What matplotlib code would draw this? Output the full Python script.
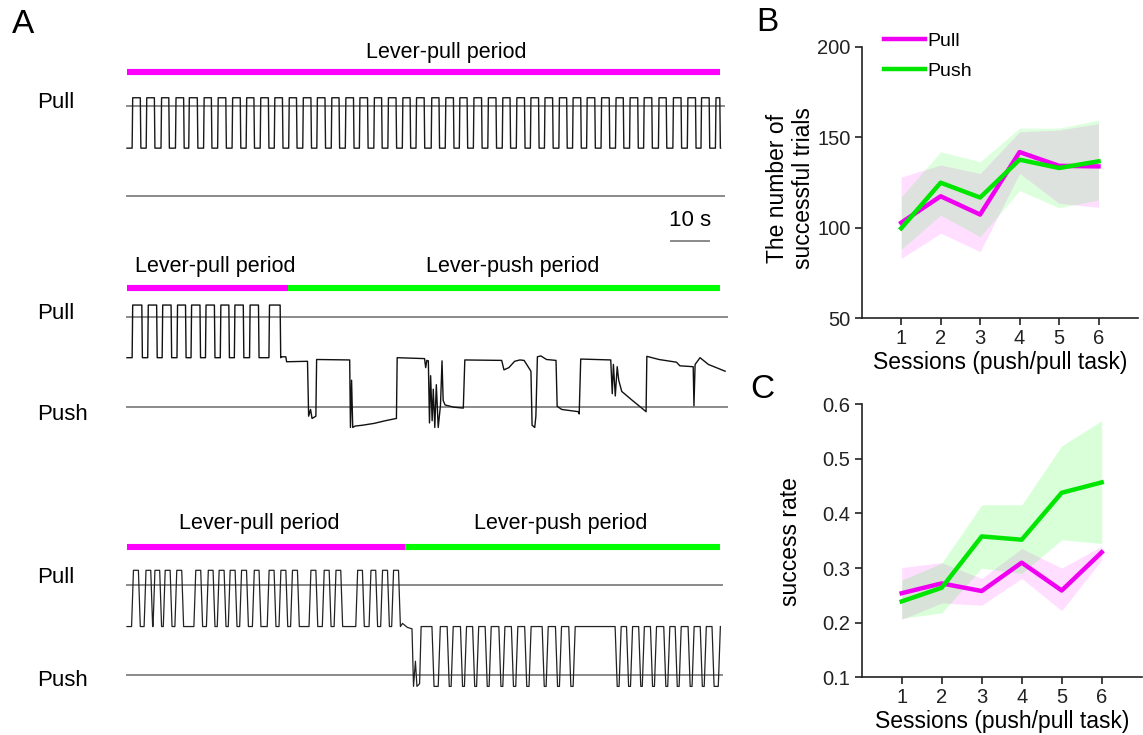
import numpy as np
import matplotlib
matplotlib.use('Agg')
import matplotlib.pyplot as plt

plt.rcParams['font.family'] = ['Liberation Sans', 'DejaVu Sans']

PULL_C = '#ff00ff'
PUSH_C = '#00ff00'
PULL_LINE = '#f000f0'
PUSH_LINE = '#00e600'
GREY = '#8a8a8a'

# ---------------- panel A: lever traces ----------------
# time in s, lever position: +1 = pull threshold, -1 = push threshold, 0 = rest
t_end = 156.0
pull_end = [t_end, 42.4, 73.2]   # end of lever-pull period in each example

# example 1: lever-pull period only
ex1_on = [1.5, 5.2, 9.1, 12.9, 16.4, 20.3, 24.0, 27.8, 31.5, 35.2, 38.9, 42.7, 46.4, 50.1,
          53.9, 57.6, 61.3, 65.1, 68.8, 72.6, 76.2, 80.2, 83.9, 87.6, 91.3, 95.1, 98.9,
          102.6, 106.3, 110.0, 113.8, 117.4, 121.1, 124.9, 128.7, 132.4, 136.1, 140.0,
          143.8, 147.6, 151.2, 155.0]
ex1_off = [3.5, 7.2, 11.0, 14.9, 18.5, 22.2, 26.0, 29.8, 33.4, 37.2, 40.9, 44.6, 48.4, 52.1,
           55.8, 59.6, 63.3, 67.0, 70.8, 74.5, 78.2, 82.1, 85.9, 89.5, 93.3, 97.1, 100.8,
           104.6, 108.3, 112.0, 115.7, 119.4, 123.1, 126.9, 130.6, 134.4, 138.1, 141.9,
           145.8, 149.6, 153.2, 156.0]
ex1_lo, ex1_hi = 0.07, 1.19

# example 2: pull period then push period
ex2_on = [1.5, 5.6, 9.4, 13.3, 17.0, 20.8, 24.7, 28.4, 32.4, 37.5]
ex2_off = [3.9, 7.8, 11.6, 15.4, 19.2, 23.0, 26.8, 30.6, 34.6, 40.3]
ex2_lo, ex2_hi = 0.10, 1.27
ex2_t = [40.5, 41.8, 42.0, 47.5, 47.8, 48.3, 48.7, 49.7, 49.9, 58.6, 58.8, 59.1, 59.4, 60.0,
         62.0, 65.0, 68.0, 70.9, 71.1, 78.3, 78.6, 78.9, 79.3, 79.6, 79.9, 80.3, 80.6, 81.0,
         81.4, 81.9, 82.5, 82.9, 83.2, 83.7, 86.0, 88.5, 88.9, 98.6, 99.2, 100.5, 102.0,
         103.4, 104.5, 106.3, 106.6, 107.3, 107.6, 108.0, 108.9, 110.4, 112.9, 113.2, 114.4,
         118.8, 119.0, 119.4, 127.3, 127.7, 128.0, 128.5, 129.0, 129.4, 130.2, 133.0, 135.9,
         136.6, 136.8, 140.0, 144.6, 145.5, 149.0, 149.2, 149.5, 150.8, 153.0, 157.4]
ex2_y = [0.12, 0.12, 0.01, 0.02, -1.20, -1.05, -1.25, -1.20, 0.06, 0.05, -1.45, -0.40, -1.45,
         -1.42, -1.40, -1.36, -1.30, -1.25, 0.10, 0.08, -0.12, 0.04, 0.03, -1.35, -0.30, -1.30,
         -0.60, -1.45, -0.50, -1.45, -0.95, 0.03, -0.85, -0.95, -1.00, -1.02, 0.05, 0.04,
         -0.17, -0.12, 0.02, 0.05, 0.04, -0.20, -1.40, -1.45, -1.20, 0.12, 0.14, 0.06, 0.04,
         -0.98, -1.05, -1.10, -1.15, 0.07, 0.05, -0.70, -0.05, -0.75, -0.10, -0.40, -0.65,
         -0.85, -1.05, -1.10, 0.13, 0.06, 0.00, -0.08, -0.10, -0.97, -0.05, 0.10, -0.05, -0.20]

# example 3: pull period then push period (smoother movements)
ex3_on = [1.7, 5.0, 7.35, 10.05, 13.1, 18.1, 21.4, 24.25, 27.15, 30.15, 33.5, 37.4, 40.5,
          43.55, 48.4, 51.9, 55.0, 60.7, 64.2, 67.25, 70.15]
ex3_off = [3.0, 6.25, 8.6, 11.35, 14.4, 19.4, 22.65, 25.55, 28.45, 31.45, 34.75, 38.7, 41.8,
           44.85, 49.7, 53.2, 56.25, 61.95, 65.45, 68.55, 71.45]
ex3_lo, ex3_hi = 0.07, 1.32
ex3_mid_t = [72.5, 73.8, 75.0, 75.4, 75.9, 76.3, 77.0, 77.4, 79.0]
ex3_mid_y = [0.14, 0.05, 0.02, -1.26, -0.70, -1.26, -1.20, 0.07, 0.07]
ex3_dn = [80.8, 84.8, 88.3, 91.5, 94.8, 98.4, 101.7, 105.2, 109.8, 113.3, 116.8, 129.0,
          132.0, 135.2, 138.3, 141.8, 144.8, 148.2, 151.4, 154.5]
ex3_up = [81.9, 85.3, 88.8, 92.0, 95.3, 98.9, 102.3, 105.8, 110.3, 113.8, 117.4, 129.5,
          132.5, 135.6, 138.8, 142.3, 145.3, 148.7, 151.9, 155.6]
ex3_top, ex3_bot = 0.07, -1.26

# ---------------- panels B and C ----------------
sessions = [1, 2, 3, 4, 5, 6]
n_pull = [102.8, 117.4, 107.3, 141.8, 134.2, 133.9]
n_pull_lo = [83.0, 97.0, 86.8, 130.0, 113.5, 111.3]
n_pull_hi = [128.0, 134.7, 130.0, 153.0, 154.0, 157.5]
n_push = [99.7, 124.9, 116.7, 137.6, 133.0, 136.7]
n_push_lo = [88.0, 107.0, 95.0, 120.5, 111.0, 115.3]
n_push_hi = [117.0, 142.0, 136.5, 155.0, 155.0, 159.5]

r_pull = [0.254, 0.272, 0.258, 0.310, 0.259, 0.329]
r_pull_lo = [0.206, 0.236, 0.232, 0.281, 0.222, 0.315]
r_pull_hi = [0.301, 0.310, 0.281, 0.336, 0.300, 0.340]
r_push = [0.239, 0.264, 0.358, 0.352, 0.438, 0.457]
r_push_lo = [0.208, 0.218, 0.300, 0.290, 0.352, 0.345]
r_push_hi = [0.278, 0.309, 0.416, 0.416, 0.524, 0.570]


def steps(on, off, base, peak, ramp, start=None, stop=None):
    t, y = [], []
    if start is not None:
        t.append(start)
        y.append(base)
    for a, b in zip(on, off):
        t += [a - ramp, a, b, b + ramp]
        y += [base, peak, peak, base]
    if stop is not None:
        t.append(stop)
        y.append(base)
    return t, y


W, H = 1143, 735
U = 45.0
fig = plt.figure(figsize=(W / 100, H / 100), dpi=100)


def lever_axes(mid_px, ylo, yhi):
    bottom_px = mid_px - ylo * U
    ax = fig.add_axes([123.2 / W, 1 - bottom_px / H, 611.8 / W, (yhi - ylo) * U / H])
    ax.set_xlim(-1, 160)
    ax.set_ylim(ylo, yhi)
    ax.axis('off')
    return ax


def period_bar(ax, y, t_switch):
    ax.plot([0, t_switch], [y, y], color=PULL_C, lw=4.4, solid_capstyle='butt')
    if t_switch < t_end:
        ax.plot([t_switch, t_end], [y, y], color=PUSH_C, lw=4.4, solid_capstyle='butt')


lab_t = -23.7
fs_lab = 15.5

# example 1
ax1 = lever_axes(151.3, -2.3, 2.7)
ax1.plot([0, 157], [1, 1], color=GREY, lw=1.4)
ax1.plot([0, 157], [-1, -1], color=GREY, lw=1.4)
t, y = steps(ex1_on, ex1_off, ex1_lo, ex1_hi, 0.15, start=0, stop=156.2)
ax1.plot(t, y, color='#1a1a1a', lw=1.0)
period_bar(ax1, 1.77, pull_end[0])
ax1.text(84, 2.2, 'Lever-pull period', ha='center', va='center', fontsize=fs_lab)
ax1.text(lab_t, 1.08, 'Pull', ha='left', va='center', fontsize=16)
ax1.plot([143.2, 153.2], [-1.99, -1.99], color=GREY, lw=1.4)
ax1.text(148.2, -1.53, '10 s', ha='center', va='center', fontsize=16)

# example 2
ax2 = lever_axes(362.2, -1.9, 2.5)
ax2.plot([0, 158], [1, 1], color=GREY, lw=1.4)
ax2.plot([0, 158], [-1, -1], color=GREY, lw=1.4)
t, y = steps(ex2_on, ex2_off, ex2_lo, ex2_hi, 0.15, start=0)
ax2.plot(t + ex2_t, y + ex2_y, color='#111111', lw=1.0)
period_bar(ax2, 1.64, pull_end[1])
ax2.text(23.2, 2.12, 'Lever-pull period', ha='center', va='center', fontsize=fs_lab)
ax2.text(101.6, 2.12, 'Lever-push period', ha='center', va='center', fontsize=fs_lab)
ax2.text(lab_t, 1.09, 'Pull', ha='left', va='center', fontsize=16)
ax2.text(lab_t, -1.17, 'Push', ha='left', va='center', fontsize=16)

# example 3
ax3 = lever_axes(629.7, -1.8, 2.6)
ax3.plot([0, 156.5], [1, 1], color=GREY, lw=1.4)
ax3.plot([0, 156.5], [-1, -1], color=GREY, lw=1.4)
t1, y1 = steps(ex3_on, ex3_off, ex3_lo, ex3_hi, 0.5, start=0)
t2, y2 = steps(ex3_dn, ex3_up, ex3_top, ex3_bot, 0.55)
ax3.plot(t1 + ex3_mid_t + t2, y1 + ex3_mid_y + y2, color='#222222', lw=0.9)
period_bar(ax3, 1.83, pull_end[2])
ax3.text(34.7, 2.37, 'Lever-pull period', ha='center', va='center', fontsize=fs_lab)
ax3.text(114.0, 2.37, 'Lever-push period', ha='center', va='center', fontsize=fs_lab)
ax3.text(lab_t, 1.15, 'Pull', ha='left', va='center', fontsize=16)
ax3.text(lab_t, -1.14, 'Push', ha='left', va='center', fontsize=16)


def style(ax):
    for s in ['top', 'right']:
        ax.spines[s].set_visible(False)
    for s in ['left', 'bottom']:
        ax.spines[s].set_linewidth(1.2)
        ax.spines[s].set_color('#222222')
    ax.tick_params(direction='out', length=5, width=1.2, labelsize=14.5, pad=3,
                   color='#222222', labelcolor='#222222')
    ax.set_xlim(0, 7)
    ax.set_xticks(sessions)


# panel B
axB = fig.add_axes([861.7 / W, 1 - 318.3 / H, 276.3 / W, 271.6 / H])
axB.fill_between(sessions, n_pull_lo, n_pull_hi, color=PULL_C, alpha=0.13, lw=0)
axB.fill_between(sessions, n_push_lo, n_push_hi, color=PUSH_C, alpha=0.13, lw=0)
axB.plot(sessions, n_pull, color=PULL_LINE, lw=3.2, label='Pull')
axB.plot(sessions, n_push, color=PUSH_LINE, lw=3.2, label='Push')
style(axB)
axB.set_ylim(50, 200)
axB.set_yticks([50, 100, 150, 200])
axB.set_xlabel('Sessions (push/pull task)', fontsize=16.5, labelpad=2)
axB.set_ylabel('The number of\nsuccessful trials', fontsize=16.5, linespacing=1.15)
axB.yaxis.set_label_coords(-0.17, 0.478)
axB.legend(frameon=False, loc='upper left', bbox_to_anchor=(0.08, 1.052), borderaxespad=0,
           borderpad=0, handlelength=2.1, handletextpad=0.15, labelspacing=0.62,
           fontsize=14)

# panel C
axC = fig.add_axes([861.7 / W, 1 - 677.3 / H, 280 / W, 273 / H])
axC.fill_between(sessions, r_pull_lo, r_pull_hi, color=PULL_C, alpha=0.13, lw=0)
axC.fill_between(sessions, r_push_lo, r_push_hi, color=PUSH_C, alpha=0.15, lw=0)
axC.plot(sessions, r_pull, color=PULL_LINE, lw=3.2)
axC.plot(sessions, r_push, color=PUSH_LINE, lw=3.2)
style(axC)
axC.set_ylim(0.1, 0.6)
axC.set_yticks([0.1, 0.2, 0.3, 0.4, 0.5, 0.6])
axC.set_yticklabels(['0.1', '0.2', '0.3', '0.4', '0.5', '0.6'])
axC.set_xlabel('Sessions (push/pull task)', fontsize=16.5, labelpad=2)
axC.set_ylabel('success rate', fontsize=16.5)
axC.yaxis.set_label_coords(-0.214, 0.497)

fig.text(12 / W, 1 - 9 / H, 'A', ha='left', va='top', fontsize=24)
fig.text(756 / W, 1 - 7 / H, 'B', ha='left', va='top', fontsize=24)
fig.text(750 / W, 1 - 374 / H, 'C', ha='left', va='top', fontsize=24)

fig.savefig('out.png', dpi=100)
